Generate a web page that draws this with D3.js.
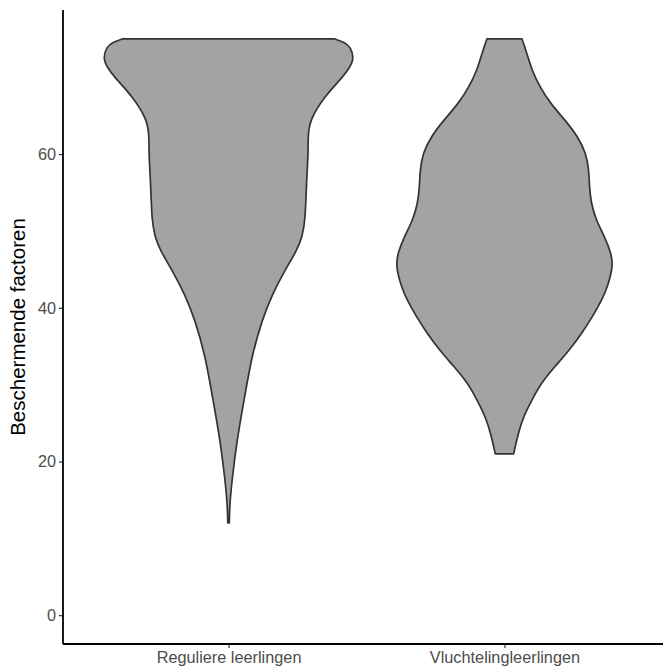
<!DOCTYPE html>
<html>
<head>
<meta charset="utf-8">
<script src="https://cdn.jsdelivr.net/npm/d3@7"></script>
<style>
  body { margin: 0; background: #fff; }
  svg { display: block; font-family: "Liberation Sans", Arial, sans-serif; }
</style>
</head>
<body>
<div id="chart"></div>
<script>
// groups on the x axis
const groups = ['Reguliere leerlingen', 'Vluchtelingleerlingen'];

// y values along each violin and the relative density (1 = widest violin)
const regY = [75, 74.5, 74.0, 72.2, 70.1, 67.5, 64.4, 62.2, 60.1, 55.8, 51.4, 49.3, 47.5, 44.9, 41.7, 38.4, 33.9, 28.0, 22.8, 17.6, 14.5, 12];
const regD = [0.852, 0.94, 0.98, 1.02, 0.925, 0.773, 0.652, 0.64, 0.642, 0.626, 0.618, 0.594, 0.552, 0.455, 0.35, 0.27, 0.189, 0.125, 0.068, 0.028, 0.01, 0.006];

const vluY = [75, 73.1, 70.9, 68.8, 66.6, 64.4, 62.3, 60.1, 57.9, 55.8, 53.6, 51.4, 49.3, 47.1, 45.4, 42.8, 41.0, 38.9, 36.7, 34.5, 32.4, 30.2, 28.0, 25.9, 23.7, 21];
const vluD = [0.141, 0.181, 0.221, 0.284, 0.369, 0.49, 0.59, 0.658, 0.68, 0.684, 0.698, 0.738, 0.805, 0.86, 0.875, 0.832, 0.785, 0.711, 0.624, 0.523, 0.409, 0.295, 0.221, 0.155, 0.111, 0.074];

const yTicks = [0, 20, 40, 60];

const violins = [
  { group: groups[0], y: regY, d: regD },
  { group: groups[1], y: vluY, d: vluD }
];

const W = 663, H = 670;
const panel = { left: 63, top: 10, right: 670, bottom: 644 };

const svg = d3.select('#chart').append('svg')
  .attr('width', W)
  .attr('height', H);

// discrete x positions 1..n with ggplot's 0.6 expansion
const x = d3.scaleLinear()
  .domain([0.4, groups.length + 0.6])
  .range([panel.left, panel.right]);

const y = d3.scaleLinear()
  .domain([-3.75, 78.75])
  .range([panel.bottom, panel.top]);

const halfWidth = 0.45;

const area = d3.area()
  .curve(d3.curveBasis)
  .y((p) => y(p.y));

violins.forEach((v, i) => {
  const pos = i + 1;
  const pts = v.y.map((yy, j) => ({ y: yy, d: v.d[j] }));
  area
    .x0((p) => x(pos - p.d * halfWidth))
    .x1((p) => x(pos + p.d * halfWidth));
  svg.append('path')
    .datum(pts)
    .attr('d', area)
    .attr('fill', '#a3a3a3')
    .attr('stroke', '#333333')
    .attr('stroke-width', 1.7)
    .attr('stroke-linejoin', 'round');
});

// y axis
const yAxis = d3.axisLeft(y)
  .tickValues(yTicks)
  .tickSize(4)
  .tickPadding(3);
const gY = svg.append('g')
  .attr('transform', `translate(${panel.left},0)`)
  .call(yAxis);
gY.select('.domain').remove();
gY.selectAll('.tick line').attr('stroke', '#333333').attr('stroke-width', 1.2);
gY.selectAll('.tick text')
  .attr('fill', '#4d4d4d')
  .style('font-size', '16.3px');

// x axis
const xAxis = d3.axisBottom(x)
  .tickValues(groups.map((g, i) => i + 1))
  .tickFormat((d) => groups[d - 1])
  .tickSize(4)
  .tickPadding(3);
const gX = svg.append('g')
  .attr('transform', `translate(0,${panel.bottom})`)
  .call(xAxis);
gX.select('.domain').remove();
gX.selectAll('.tick line').attr('stroke', '#333333').attr('stroke-width', 1.2);
gX.selectAll('.tick text')
  .attr('fill', '#4d4d4d')
  .style('font-size', '16.3px');

// axis lines
svg.append('line')
  .attr('x1', panel.left).attr('x2', panel.left)
  .attr('y1', panel.top).attr('y2', panel.bottom)
  .attr('stroke', '#000').attr('stroke-width', 1.8);
svg.append('line')
  .attr('x1', panel.left).attr('x2', W)
  .attr('y1', panel.bottom).attr('y2', panel.bottom)
  .attr('stroke', '#000').attr('stroke-width', 1.8);

// y axis title
svg.append('text')
  .attr('transform', `translate(25,${(panel.top + panel.bottom) / 2}) rotate(-90)`)
  .attr('text-anchor', 'middle')
  .attr('fill', '#000')
  .style('font-size', '20.5px')
  .text('Beschermende factoren');
</script>
</body>
</html>
